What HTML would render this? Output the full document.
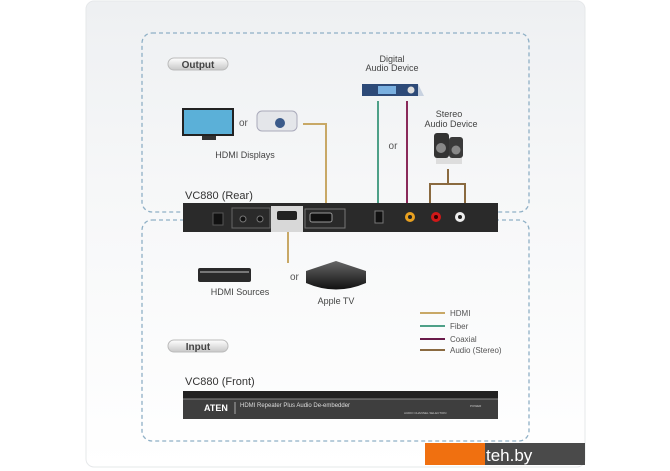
<!DOCTYPE html>
<html><head><meta charset="utf-8"><style>
html,body{margin:0;padding:0;background:#fff;}
svg{display:block;font-family:"Liberation Sans",sans-serif;}
</style></head><body>
<svg width="670" height="471" viewBox="0 0 670 471" xmlns="http://www.w3.org/2000/svg">
<defs>
<linearGradient id="bg" x1="0" y1="0" x2="0" y2="1"><stop offset="0" stop-color="#eef0f2"/><stop offset="0.4" stop-color="#f6f7f8"/><stop offset="1" stop-color="#ffffff"/></linearGradient>
<linearGradient id="pill" x1="0" y1="0" x2="0" y2="1"><stop offset="0" stop-color="#fff"/><stop offset="1" stop-color="#c8c8c8"/></linearGradient>
<linearGradient id="atv" x1="0" y1="0" x2="0" y2="1"><stop offset="0" stop-color="#666"/><stop offset="1" stop-color="#111"/></linearGradient>
</defs>
<rect width="670" height="471" fill="#fff"/>
<rect x="86" y="1" width="499" height="466" rx="8" fill="url(#bg)" stroke="#e6e8ea"/>
<!-- dashed boxes -->
<rect x="142" y="33" width="387" height="179" rx="10" fill="none" stroke="#8fb0c6" stroke-width="1.3" stroke-dasharray="4,3"/>
<rect x="142" y="220" width="387" height="221" rx="10" fill="none" stroke="#8fb0c6" stroke-width="1.3" stroke-dasharray="4,3"/>
<!-- pills -->
<rect x="168" y="58" width="60" height="12" rx="6" fill="url(#pill)" stroke="#bbb"/>
<text x="198" y="68" font-size="10" font-weight="bold" fill="#444" text-anchor="middle">Output</text>
<rect x="168" y="340" width="60" height="12" rx="6" fill="url(#pill)" stroke="#bbb"/>
<text x="198" y="350" font-size="10" font-weight="bold" fill="#444" text-anchor="middle">Input</text>
<!-- TV -->
<rect x="182" y="108" width="52" height="28" fill="#222"/>
<rect x="184" y="110" width="48" height="24" fill="#5bb0d8"/>
<rect x="202" y="136" width="14" height="4" fill="#333"/>
<text x="239" y="126" font-size="10" fill="#555">or</text>
<!-- projector -->
<rect x="257" y="111" width="40" height="20" rx="5" fill="#e4e6ea" stroke="#aab"/>
<circle cx="280" cy="123" r="5" fill="#3a5a8a"/>
<text x="245" y="158" font-size="9" fill="#444" text-anchor="middle">HDMI Displays</text>
<!-- digital audio device -->
<text x="392" y="62" font-size="9" fill="#444" text-anchor="middle">Digital</text>
<text x="392" y="71" font-size="9" fill="#444" text-anchor="middle">Audio Device</text>
<polygon points="362,84 418,84 424,96 362,96" fill="#c8d2e0"/>
<rect x="362" y="84" width="56" height="12" fill="#2d4a78"/>
<rect x="378" y="86" width="18" height="8" fill="#7ab0e0"/>
<circle cx="411" cy="90" r="3.5" fill="#ddd"/>
<text x="449" y="117" font-size="9" fill="#444" text-anchor="middle">Stereo</text>
<text x="451" y="127" font-size="9" fill="#444" text-anchor="middle">Audio Device</text>
<rect x="434" y="133" width="15" height="25" rx="3" fill="#333"/>
<rect x="449" y="137" width="14" height="21" rx="3" fill="#3a3a3a"/>
<circle cx="441" cy="148" r="5" fill="#888"/><circle cx="456" cy="150" r="4.5" fill="#888"/>
<rect x="436" y="158" width="26" height="6" fill="#ddd"/>
<text x="393" y="149" font-size="10" fill="#555" text-anchor="middle">or</text>
<!-- lines -->
<g fill="none" stroke-width="2">
<polyline points="303,124 326,124 326,203" stroke="#c8a866"/>
<line x1="288" y1="232" x2="288" y2="263" stroke="#c8a866"/>
<line x1="378" y1="101" x2="378" y2="203" stroke="#4ea088"/>
<line x1="407" y1="101" x2="407" y2="203" stroke="#8a2a5a"/>
<polyline points="448,169 448,184 430,184 430,203" stroke="#8a6a40"/>
<polyline points="448,184 465,184 465,203" stroke="#8a6a40"/>
</g>
<text x="185" y="199" font-size="11" fill="#333">VC880 (Rear)</text>
<!-- rear panel -->
<rect x="183" y="203" width="315" height="29" fill="#2a2a2a"/>
<rect x="213" y="213" width="10" height="12" fill="#111" stroke="#555"/>
<rect x="232" y="208" width="38" height="20" fill="none" stroke="#666"/>
<circle cx="243" cy="219" r="3" fill="#111" stroke="#777"/><circle cx="260" cy="219" r="3" fill="#111" stroke="#777"/>
<rect x="271" y="206" width="32" height="26" fill="#d8d8d8"/>
<rect x="277" y="211" width="20" height="9" rx="2" fill="#222"/>
<rect x="305" y="209" width="40" height="19" fill="none" stroke="#777"/>
<rect x="310" y="213" width="22" height="9" rx="2" fill="#111" stroke="#999"/>
<rect x="375" y="211" width="8" height="12" fill="#111" stroke="#777"/>
<circle cx="410" cy="217" r="5" fill="#e8a020"/><circle cx="410" cy="217" r="2" fill="#222"/>
<circle cx="436" cy="217" r="5" fill="#d01818"/><circle cx="436" cy="217" r="2" fill="#300"/>
<circle cx="460" cy="217" r="5" fill="#eee"/><circle cx="460" cy="217" r="2" fill="#222"/>
<!-- sources -->
<rect x="198" y="268" width="53" height="14" rx="2" fill="#2a2a2a"/>
<rect x="200" y="271" width="49" height="2" fill="#777"/>
<text x="240" y="295" font-size="9" fill="#444" text-anchor="middle">HDMI Sources</text>
<text x="290" y="280" font-size="10" fill="#555">or</text>
<path d="M306,271 L336,261 L366,271 L366,283 Q336,296 306,283 Z" fill="url(#atv)"/>
<text x="336" y="304" font-size="9" fill="#444" text-anchor="middle">Apple TV</text>
<!-- legend -->
<g stroke-width="2">
<line x1="420" y1="313" x2="445" y2="313" stroke="#c8a866"/>
<line x1="420" y1="326" x2="445" y2="326" stroke="#4ea088"/>
<line x1="420" y1="339" x2="445" y2="339" stroke="#6a1a4a"/>
<line x1="420" y1="350" x2="445" y2="350" stroke="#8a6a40"/>
</g>
<g font-size="8" fill="#555">
<text x="450" y="316">HDMI</text><text x="450" y="329">Fiber</text>
<text x="450" y="342">Coaxial</text><text x="450" y="353">Audio (Stereo)</text>
</g>
<text x="185" y="385" font-size="11" fill="#333">VC880 (Front)</text>
<rect x="183" y="391" width="315" height="8" fill="#222"/>
<rect x="183" y="399" width="315" height="20" fill="#3e3e3e"/>
<line x1="183" y1="399" x2="498" y2="399" stroke="#888"/>
<text x="204" y="411" font-size="9" font-weight="bold" fill="#fff">ATEN</text>
<line x1="235" y1="402" x2="235" y2="414" stroke="#aaa"/>
<text x="240" y="407" font-size="6" fill="#ddd">HDMI Repeater Plus Audio De-embedder</text>
<text x="404" y="414" font-size="3" fill="#ccc">AUDIO CHANNEL SELECTION</text>
<text x="470" y="407" font-size="3" fill="#ccc">POWER</text>
<!-- logo -->
<rect x="425" y="443" width="60" height="22" fill="#f07010"/>
<rect x="485" y="443" width="100" height="22" fill="#4a4a4a"/>
<text x="486" y="461" font-size="17" fill="#fff">teh.by</text>
</svg>
</body></html>
